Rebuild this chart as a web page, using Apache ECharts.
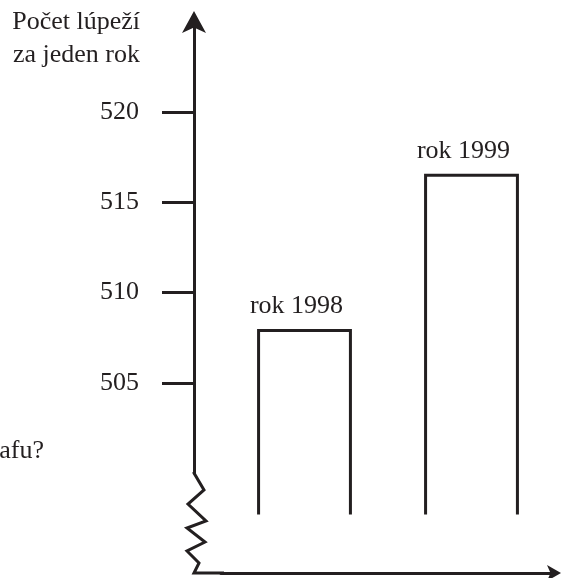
<!DOCTYPE html>
<html>
<head>
<meta charset="utf-8">
<script src="https://cdn.jsdelivr.net/npm/echarts@6/dist/echarts.min.js"></script>
<style>html,body{margin:0;padding:0;background:#fff}#c{width:561px;height:578px}</style>
</head>
<body>
<div id="c"></div>
<script>
const categories = ['1998', '1999'];
const barLabels = ['rok 1998', 'rok 1999'];
const robberies = [507.9, 516.5];
const yTicks = [505, 510, 515, 520];
const yTitle = 'Počet lúpeží\nza jeden rok';
const cutText = 'afu?';

const INK = '#231f20';
const FONT = '"Liberation Serif", "DejaVu Serif", serif';
const BASE = 497.7;

const chart = echarts.init(document.getElementById('c'), null, {renderer: 'canvas'});
chart.setOption({
  animation: false,
  backgroundColor: '#fff',
  grid: {left: 221, right: 6, top: 22, bottom: 105},
  xAxis: {
    type: 'category',
    data: categories,
    boundaryGap: true,
    offset: 100,
    axisLine: {show: true, lineStyle: {color: INK, width: 3}, symbol: ['none', 'arrow'], symbolSize: [12, 14], symbolOffset: [0, 6]},
    axisTick: {show: false},
    axisLabel: {show: false},
    splitLine: {show: false}
  },
  yAxis: {
    type: 'value',
    min: 500, max: 525, interval: 5,
    offset: 27,
    axisLine: {show: true, lineStyle: {color: INK, width: 3}, symbol: ['none', 'arrow'], symbolSize: [18, 22], symbolOffset: [0, 11]},
    axisTick: {show: true, inside: false, length: 32, lineStyle: {color: INK, width: 3}, customValues: yTicks},
    axisLabel: {show: true, margin: 55, color: INK, fontFamily: FONT, fontSize: 26, customValues: yTicks},
    splitLine: {show: false}
  },
  graphic: [
    {type: 'text', x: 140, y: 6, style: {text: yTitle, fill: INK, font: '26px ' + FONT, align: 'right', verticalAlign: 'top', lineHeight: 33}},
    {type: 'text', x: 44, y: 464, style: {text: cutText, fill: INK, font: '26px ' + FONT, align: 'right', verticalAlign: 'bottom'}},
    {type: 'polyline', shape: {points: [[194, 472], [194, 473], [204, 490], [188, 504], [206, 521], [187, 528], [205, 542], [187, 551], [199, 563], [194, 573], [224, 573]]}, style: {stroke: INK, lineWidth: 3, fill: null, lineJoin: 'miter'}}
  ],
  series: [{
    type: 'custom',
    clip: false,
    data: categories.map((c, i) => [i, robberies[i]]),
    renderItem: function (params, api) {
      const idx = params.dataIndex;
      const top = api.coord([api.value(0), api.value(1)]);
      const base = api.coord([api.value(0), BASE]);
      const w = api.size([1, 0])[0] * 0.55;
      return {
        type: 'group',
        children: [
          {type: 'polyline', shape: {points: [[top[0] - w / 2, base[1]], [top[0] - w / 2, top[1]], [top[0] + w / 2, top[1]], [top[0] + w / 2, base[1]]]},
           style: {stroke: INK, lineWidth: 3, fill: null, lineJoin: 'miter'}},
          {type: 'text', style: {text: barLabels[idx], x: top[0] - 8, y: top[1] - 11, fill: INK, font: '26px ' + FONT, align: 'center', verticalAlign: 'bottom'}}
        ]
      };
    }
  }]
});
</script>
</body>
</html>
